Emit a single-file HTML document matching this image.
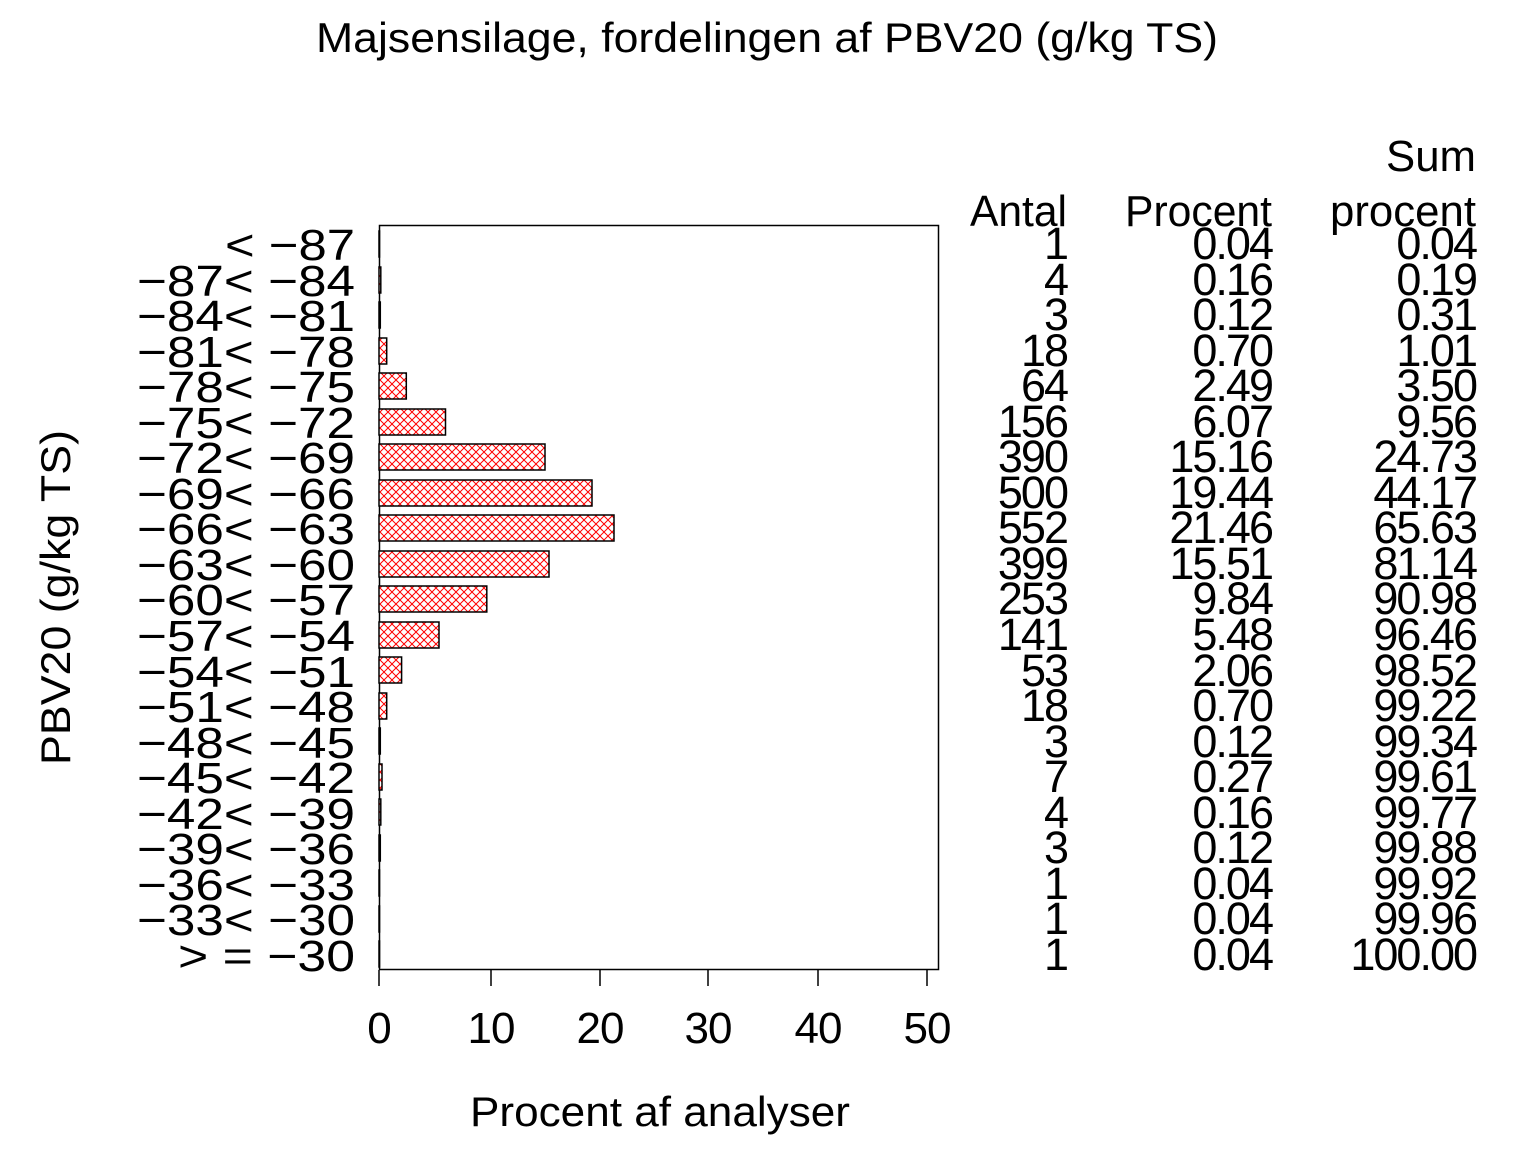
<!DOCTYPE html>
<html><head><meta charset="utf-8"><style>html,body{margin:0;padding:0;background:#fff}svg{display:block}text{font-family:"Liberation Sans",sans-serif;fill:#000}</style></head><body>
<svg width="1536" height="1152" viewBox="0 0 1536 1152" xmlns="http://www.w3.org/2000/svg">
<defs>
<pattern id="hatch" width="8" height="8" patternUnits="userSpaceOnUse">
<rect width="8" height="8" fill="#fff"/>
<path d="M0,0 L8,8 M8,0 L0,8" stroke="#ff0000" stroke-width="1"/>
</pattern>
</defs>
<text x="316" y="52" font-size="42" textLength="902" lengthAdjust="spacingAndGlyphs">Majsensilage,  fordelingen  af  PBV20  (g/kg  TS)</text>
<text transform="translate(70,765) rotate(-90)" font-size="42" textLength="335" lengthAdjust="spacingAndGlyphs">PBV20  (g/kg  TS)</text>
<text x="470" y="1126" font-size="42" textLength="380" lengthAdjust="spacingAndGlyphs">Procent  af  analyser</text>
<rect x="379.5" y="225.5" width="559" height="744" fill="none" stroke="#000" stroke-width="1.5"/>
<g stroke="#000" stroke-width="1.5">
<line x1="379" y1="970" x2="379" y2="986"/><line x1="491" y1="970" x2="491" y2="986"/><line x1="600" y1="970" x2="600" y2="986"/><line x1="708" y1="970" x2="708" y2="986"/><line x1="818" y1="970" x2="818" y2="986"/><line x1="927" y1="970" x2="927" y2="986"/>
</g>
<g font-size="44" text-anchor="middle" letter-spacing="-1">
<text x="379" y="1043">0</text><text x="491" y="1043">10</text><text x="600" y="1043">20</text><text x="708" y="1043">30</text><text x="818" y="1043">40</text><text x="927" y="1043">50</text>
</g>
<g fill="url(#hatch)" stroke="#000" stroke-width="1.5">
<rect x="379" y="231" width="0.5" height="26"/>
<rect x="379" y="267" width="1.8" height="26"/>
<rect x="379" y="302" width="1.3" height="26"/>
<rect x="379" y="338" width="7.7" height="26"/>
<rect x="379" y="373" width="27.3" height="26"/>
<rect x="379" y="409" width="66.5" height="26"/>
<rect x="379" y="444" width="166" height="26"/>
<rect x="379" y="480" width="213" height="26"/>
<rect x="379" y="515" width="235" height="26"/>
<rect x="379" y="551" width="170" height="26"/>
<rect x="379" y="586" width="107.8" height="26"/>
<rect x="379" y="622" width="60" height="26"/>
<rect x="379" y="657" width="22.6" height="26"/>
<rect x="379" y="693" width="7.7" height="26"/>
<rect x="379" y="728" width="1.3" height="26"/>
<rect x="379" y="764" width="3" height="26"/>
<rect x="379" y="799" width="1.8" height="26"/>
<rect x="379" y="835" width="1.3" height="26"/>
<rect x="379" y="870" width="0.5" height="26"/>
<rect x="379" y="906" width="0.5" height="26"/>
<rect x="379" y="941" width="0.5" height="26"/>
</g>
<g font-size="44">
<text x="225" y="260" textLength="130" lengthAdjust="spacingAndGlyphs">&lt; −87</text>
<text x="137" y="296" textLength="218" lengthAdjust="spacingAndGlyphs">−87&lt; −84</text>
<text x="137" y="331" textLength="218" lengthAdjust="spacingAndGlyphs">−84&lt; −81</text>
<text x="137" y="367" textLength="218" lengthAdjust="spacingAndGlyphs">−81&lt; −78</text>
<text x="137" y="402" textLength="218" lengthAdjust="spacingAndGlyphs">−78&lt; −75</text>
<text x="137" y="438" textLength="218" lengthAdjust="spacingAndGlyphs">−75&lt; −72</text>
<text x="137" y="473" textLength="218" lengthAdjust="spacingAndGlyphs">−72&lt; −69</text>
<text x="137" y="509" textLength="218" lengthAdjust="spacingAndGlyphs">−69&lt; −66</text>
<text x="137" y="544" textLength="218" lengthAdjust="spacingAndGlyphs">−66&lt; −63</text>
<text x="137" y="580" textLength="218" lengthAdjust="spacingAndGlyphs">−63&lt; −60</text>
<text x="137" y="615" textLength="218" lengthAdjust="spacingAndGlyphs">−60&lt; −57</text>
<text x="137" y="651" textLength="218" lengthAdjust="spacingAndGlyphs">−57&lt; −54</text>
<text x="137" y="687" textLength="218" lengthAdjust="spacingAndGlyphs">−54&lt; −51</text>
<text x="137" y="722" textLength="218" lengthAdjust="spacingAndGlyphs">−51&lt; −48</text>
<text x="137" y="758" textLength="218" lengthAdjust="spacingAndGlyphs">−48&lt; −45</text>
<text x="137" y="793" textLength="218" lengthAdjust="spacingAndGlyphs">−45&lt; −42</text>
<text x="137" y="829" textLength="218" lengthAdjust="spacingAndGlyphs">−42&lt; −39</text>
<text x="137" y="864" textLength="218" lengthAdjust="spacingAndGlyphs">−39&lt; −36</text>
<text x="137" y="900" textLength="218" lengthAdjust="spacingAndGlyphs">−36&lt; −33</text>
<text x="137" y="935" textLength="218" lengthAdjust="spacingAndGlyphs">−33&lt; −30</text>
<text x="178" y="971" textLength="177" lengthAdjust="spacingAndGlyphs">&gt; = −30</text>
</g>
<g font-size="44">
<text x="1386" y="171" textLength="90" lengthAdjust="spacingAndGlyphs">Sum</text>
<text x="970" y="226" textLength="97" lengthAdjust="spacingAndGlyphs">Antal</text><text x="1125" y="226" textLength="147" lengthAdjust="spacingAndGlyphs">Procent</text><text x="1330" y="226" textLength="146" lengthAdjust="spacingAndGlyphs">procent</text>
</g>
<g font-size="45" text-anchor="end" letter-spacing="-2">
<text x="1067" y="259">1</text><text x="1272" y="259">0.04</text><text x="1476" y="259">0.04</text>
<text x="1067" y="295">4</text><text x="1272" y="295">0.16</text><text x="1476" y="295">0.19</text>
<text x="1067" y="330">3</text><text x="1272" y="330">0.12</text><text x="1476" y="330">0.31</text>
<text x="1067" y="366">18</text><text x="1272" y="366">0.70</text><text x="1476" y="366">1.01</text>
<text x="1067" y="401">64</text><text x="1272" y="401">2.49</text><text x="1476" y="401">3.50</text>
<text x="1067" y="437">156</text><text x="1272" y="437">6.07</text><text x="1476" y="437">9.56</text>
<text x="1067" y="472">390</text><text x="1272" y="472">15.16</text><text x="1476" y="472">24.73</text>
<text x="1067" y="508">500</text><text x="1272" y="508">19.44</text><text x="1476" y="508">44.17</text>
<text x="1067" y="543">552</text><text x="1272" y="543">21.46</text><text x="1476" y="543">65.63</text>
<text x="1067" y="579">399</text><text x="1272" y="579">15.51</text><text x="1476" y="579">81.14</text>
<text x="1067" y="614">253</text><text x="1272" y="614">9.84</text><text x="1476" y="614">90.98</text>
<text x="1067" y="650">141</text><text x="1272" y="650">5.48</text><text x="1476" y="650">96.46</text>
<text x="1067" y="686">53</text><text x="1272" y="686">2.06</text><text x="1476" y="686">98.52</text>
<text x="1067" y="721">18</text><text x="1272" y="721">0.70</text><text x="1476" y="721">99.22</text>
<text x="1067" y="757">3</text><text x="1272" y="757">0.12</text><text x="1476" y="757">99.34</text>
<text x="1067" y="792">7</text><text x="1272" y="792">0.27</text><text x="1476" y="792">99.61</text>
<text x="1067" y="828">4</text><text x="1272" y="828">0.16</text><text x="1476" y="828">99.77</text>
<text x="1067" y="863">3</text><text x="1272" y="863">0.12</text><text x="1476" y="863">99.88</text>
<text x="1067" y="899">1</text><text x="1272" y="899">0.04</text><text x="1476" y="899">99.92</text>
<text x="1067" y="934">1</text><text x="1272" y="934">0.04</text><text x="1476" y="934">99.96</text>
<text x="1067" y="970">1</text><text x="1272" y="970">0.04</text><text x="1476" y="970">100.00</text>
</g>
</svg>
</body></html>
